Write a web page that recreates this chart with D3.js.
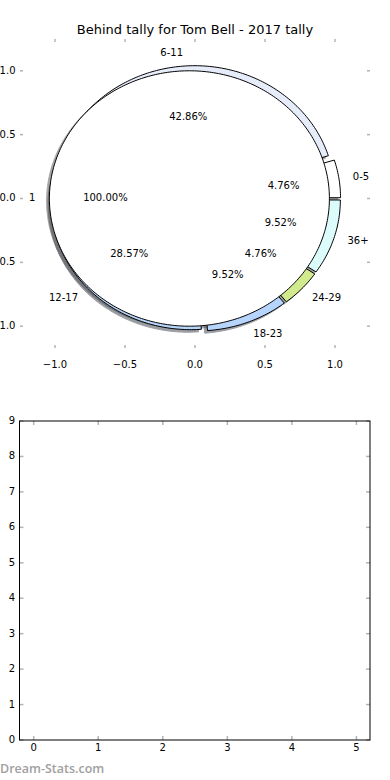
<!DOCTYPE html>
<html>
<head>
<meta charset="utf-8">
<script src="https://cdn.jsdelivr.net/npm/d3@7"></script>
<style>
  html, body { margin: 0; padding: 0; background: #fff; }
  svg { display: block; font-family: "DejaVu Sans", sans-serif; }
</style>
</head>
<body>
<svg id="chart" width="390" height="780"></svg>
<script>
const titleText = 'Behind tally for Tom Bell - 2017 tally';
const categories = ['0-5', '6-11', '12-17', '18-23', '24-29', '36+'];
const counts = [1, 9, 6, 2, 1, 2];
const sliceColors = ['#ffffff', '#e6ecfa', '#b8d6fa', '#b6d4fc', '#d2ea8e', '#dcfcfc'];
const innerLabels = ['1'];
const innerCounts = [21];
const pieTicks = [-1.0, -0.5, 0.0, 0.5, 1.0];
const lowerXTicks = [0, 1, 2, 3, 4, 5];
const lowerYTicks = [0, 1, 2, 3, 4, 5, 6, 7, 8, 9];

const svg = d3.select('#chart');
const tickColor = '#b4b4b4';
const fmt = d3.format('.1f');
const pctFmt = v => d3.format('.2f')(v) + '%';

// top panel: pie axes
const px = d3.scaleLinear().domain([-1.25, 1.25]).range([20, 370]);
const py = d3.scaleLinear().domain([-1.163, 1.249]).range([347, 39]);

svg.append('text')
  .attr('x', 195).attr('y', 30)
  .attr('text-anchor', 'middle').attr('dominant-baseline', 'middle')
  .attr('font-size', 13)
  .text(titleText);

// ticks on all four sides, pointing inward
const tickG = svg.append('g').attr('stroke', tickColor).attr('stroke-width', 1.5);
pieTicks.forEach(t => {
  tickG.append('line').attr('x1', px(t)).attr('x2', px(t)).attr('y1', 39).attr('y2', 42);
  tickG.append('line').attr('x1', px(t)).attr('x2', px(t)).attr('y1', 348).attr('y2', 345);
  tickG.append('line').attr('y1', py(t)).attr('y2', py(t)).attr('x1', 20).attr('x2', 23);
  tickG.append('line').attr('y1', py(t)).attr('y2', py(t)).attr('x1', 370).attr('x2', 367);
});
pieTicks.forEach(t => {
  svg.append('text')
    .attr('x', px(t)).attr('y', 365)
    .attr('text-anchor', 'middle').attr('dominant-baseline', 'middle')
    .attr('font-size', 10)
    .text(fmt(t).replace('-', '\u2212'));
  svg.append('text')
    .attr('x', 15.5).attr('y', py(t))
    .attr('text-anchor', 'end').attr('dominant-baseline', 'middle')
    .attr('font-size', 10)
    .text(fmt(t).replace('-', '\u2212'));
});

const line = d3.line().x(d => px(d[0])).y(d => py(d[1]));

function wedgePoints(cx, cy, r, a0, a1) {
  const pts = [];
  const full = a1 - a0 >= 2 * Math.PI - 1e-6;
  if (!full) pts.push([cx, cy]);
  const n = Math.max(4, Math.ceil((a1 - a0) / (Math.PI / 180)));
  for (let i = 0; i <= n; i++) {
    const a = a0 + (a1 - a0) * i / n;
    pts.push([cx + r * Math.cos(a), cy + r * Math.sin(a)]);
  }
  return pts;
}

function buildWedges(values, explode, radius) {
  return d3.pie().sort(null).value(d => d)(values).map(p => {
    const mid = (p.startAngle + p.endAngle) / 2;
    return {
      index: p.index,
      value: p.value,
      a0: p.startAngle,
      a1: p.endAngle,
      mid: mid,
      cx: explode * Math.cos(mid),
      cy: explode * Math.sin(mid),
      r: radius
    };
  });
}

const outer = buildWedges(counts, 0.04, 1.0);
const inner = buildWedges(innerCounts, 0.04, 1.0);
const outerTotal = d3.sum(counts);
const innerTotal = d3.sum(innerCounts);

// shadows sit under every wedge
const shadowG = svg.append('g');
function shadow(w, color) {
  const c = d3.rgb(color);
  const dark = d3.rgb(c.r * 0.3, c.g * 0.3, c.b * 0.3);
  shadowG.append('path')
    .attr('d', line(wedgePoints(w.cx - 0.02, w.cy - 0.02, w.r, w.a0, w.a1)) + 'Z')
    .attr('fill', dark).attr('stroke', dark).attr('opacity', 0.5);
}
outer.forEach(w => shadow(w, sliceColors[w.index]));
inner.forEach(w => shadow(w, '#ffffff'));

const wedgeG = svg.append('g').attr('stroke', '#000').attr('stroke-width', 1);
outer.forEach(w => {
  wedgeG.append('path')
    .attr('d', line(wedgePoints(w.cx, w.cy, w.r, w.a0, w.a1)) + 'Z')
    .attr('fill', sliceColors[w.index]);
});
inner.forEach(w => {
  wedgeG.append('path')
    .attr('d', line(wedgePoints(w.cx, w.cy, w.r, w.a0, w.a1)) + 'Z')
    .attr('fill', '#ffffff');
});

function labels(wedges, names, total) {
  wedges.forEach(w => {
    const lx = w.cx + 1.1 * w.r * Math.cos(w.mid);
    const ly = w.cy + 1.1 * w.r * Math.sin(w.mid);
    svg.append('text')
      .attr('x', px(lx)).attr('y', py(ly))
      .attr('text-anchor', lx > 0 ? 'start' : 'end')
      .attr('dominant-baseline', 'middle')
      .attr('font-size', 10)
      .text(names[w.index]);
    const tx = w.cx + 0.6 * w.r * Math.cos(w.mid);
    const ty = w.cy + 0.6 * w.r * Math.sin(w.mid);
    svg.append('text')
      .attr('x', px(tx)).attr('y', py(ty))
      .attr('text-anchor', 'middle').attr('dominant-baseline', 'middle')
      .attr('font-size', 10)
      .text(pctFmt(w.value / total * 100));
  });
}
labels(outer, categories, outerTotal);
labels(inner, innerLabels, innerTotal);

// bottom panel: empty axes
const bx = d3.scaleLinear().domain([-0.22, 5.21]).range([19.5, 370]);
const by = d3.scaleLinear().domain([0, 9]).range([740, 421]);

const bt = svg.append('g').attr('stroke', tickColor).attr('stroke-width', 1.5);
lowerXTicks.forEach(t => {
  bt.append('line').attr('x1', bx(t)).attr('x2', bx(t)).attr('y1', 740).attr('y2', 736);
  bt.append('line').attr('x1', bx(t)).attr('x2', bx(t)).attr('y1', 421).attr('y2', 425);
  svg.append('text')
    .attr('x', bx(t)).attr('y', 748)
    .attr('text-anchor', 'middle').attr('dominant-baseline', 'middle')
    .attr('font-size', 10)
    .text(t);
});
lowerYTicks.forEach(t => {
  bt.append('line').attr('y1', by(t)).attr('y2', by(t)).attr('x1', 19.5).attr('x2', 23.5);
  bt.append('line').attr('y1', by(t)).attr('y2', by(t)).attr('x1', 370).attr('x2', 366);
  svg.append('text')
    .attr('x', 15).attr('y', by(t))
    .attr('text-anchor', 'end').attr('dominant-baseline', 'middle')
    .attr('font-size', 10)
    .text(t);
});
svg.append('rect')
  .attr('x', 19.5).attr('y', 421).attr('width', 350.5).attr('height', 319)
  .attr('fill', 'none').attr('stroke', '#000').attr('stroke-width', 1);

svg.append('text')
  .attr('x', 0).attr('y', 770)
  .attr('dominant-baseline', 'middle')
  .attr('font-family', '"Open Sans", sans-serif')
  .attr('font-size', 12.5).attr('font-weight', 600)
  .attr('fill', '#a0a0a0')
  .text('Dream-Stats.com');
</script>
</body>
</html>
